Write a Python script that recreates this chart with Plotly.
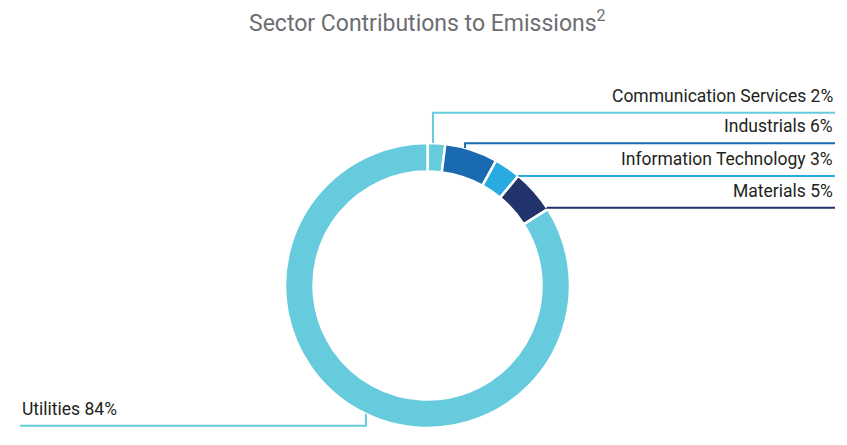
import math
import plotly.graph_objects as go

# ---- data ----
sectors = ["Communication Services", "Industrials", "Information Technology", "Materials", "Utilities"]
shares = [2, 6, 3, 5, 84]
colors = ["#66CBDC", "#1A6AB1", "#29ABE2", "#22336B", "#66CBDC"]
title_text = "Sector Contributions to Emissions<sup>2</sup>"

# ---- layout constants (pixels) ----
W, H = 847, 445
CX, CY, R = 427.5, 285.5, 142.5
HOLE = 0.80
# anchor angle on the outer ring (deg clockwise from 12 o'clock) and label line y / side
anchor_deg = [2.2, 15.3, 39.8, 56.9, 205.6]
line_y = [112.7, 143.3, 176.0, 207.7, 425.7]
side = ["right", "right", "right", "right", "left"]
RIGHT_X, LEFT_X = 835, 20

def px(x):
    return x / W

def py(y):
    return 1 - y / H

fig = go.Figure(go.Pie(
    labels=sectors, values=shares, sort=False, direction="clockwise", rotation=0,
    hole=HOLE, marker=dict(colors=colors, line=dict(color="white", width=2.5)),
    textinfo="none", hoverinfo="label+percent", showlegend=False,
    domain=dict(x=[px(CX - R), px(CX + R)], y=[py(CY + R), py(CY - R)]),
))

shapes, annotations = [], []
for name, val, col, ang, ly, sd in zip(sectors, shares, colors, anchor_deg, line_y, side):
    t = math.radians(ang)
    ax = CX + R * math.sin(t)
    ay = CY - R * math.cos(t)
    end_x = RIGHT_X if sd == "right" else LEFT_X
    path = f"M {px(ax)} {py(ay)} L {px(ax)} {py(ly)} L {px(end_x)} {py(ly)}"
    shapes.append(dict(type="path", xref="paper", yref="paper", path=path,
                       line=dict(color=col, width=2)))
    annotations.append(dict(
        x=px(end_x), y=py(ly - 5), xref="paper", yref="paper",
        xanchor="right" if sd == "right" else "left", yanchor="bottom",
        text=f"{name} {val}%", showarrow=False,
        font=dict(family="Roboto", size=17.5, color="#231F20"),
    ))

annotations.append(dict(
    x=px(427), y=py(4), xref="paper", yref="paper", xanchor="center", yanchor="top",
    text=title_text, showarrow=False,
    font=dict(family="Roboto", size=23, color="#6D6E71"),
))

fig.update_layout(
    width=W, height=H, margin=dict(l=0, r=0, t=0, b=0),
    paper_bgcolor="white", plot_bgcolor="white",
    shapes=shapes, annotations=annotations,
)

fig.write_html("out.html", config={"displayModeBar": False},
               post_script="document.body.style.margin='0';")
